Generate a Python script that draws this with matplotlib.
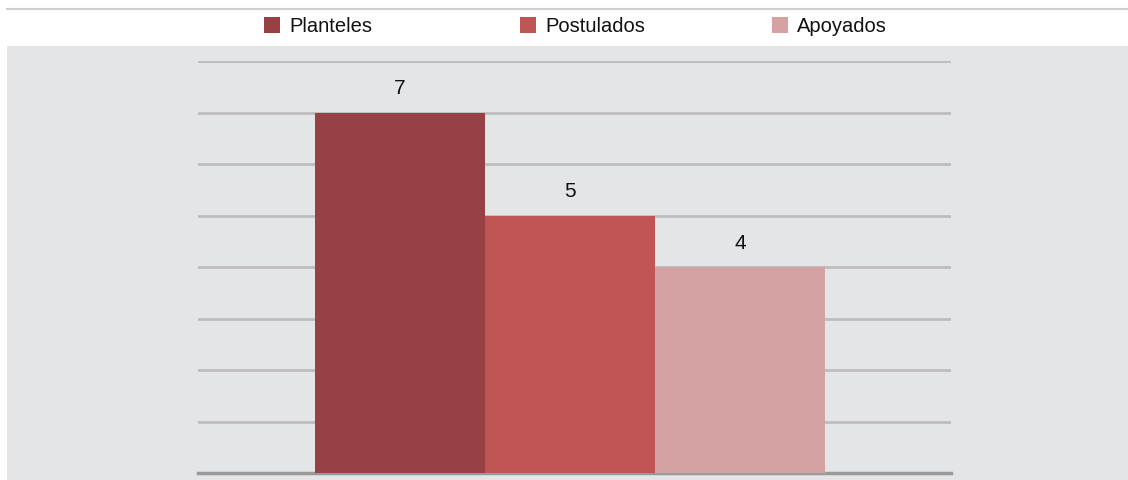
import matplotlib.pyplot as plt
from matplotlib.patches import Rectangle
from matplotlib.lines import Line2D

plt.rcParams['font.family'] = ['Liberation Sans', 'DejaVu Sans']

# Data
labels = ['Planteles', 'Postulados', 'Apoyados']
values = [7, 5, 4]
colors = ['#974144', '#bf5655', '#d4a2a2']

W, H = 1128, 481
fig = plt.figure(figsize=(W / 100, H / 100), dpi=100)

# gray panel behind the plot and thin line at top
fig.patches.append(Rectangle((7 / W, 0), 1 - 7 / W, (H - 47) / H, transform=fig.transFigure,
                             facecolor='#e4e5e7', edgecolor='none', zorder=-10))
fig.lines.append(Line2D([7 / W, 1], [(H - 9.5) / H] * 2, transform=fig.transFigure,
                        color='#cfcfcf', lw=1.5))

ax = fig.add_axes([198 / W, 7 / H, (951 - 198) / W, (474 - 62) / H])
ax.patch.set_visible(False)

x = range(len(labels))
bars = ax.bar(x, values, width=1.0, color=colors, zorder=3)
for b, v in zip(bars, values):
    ax.annotate(str(v), (b.get_x() + b.get_width() / 2, v), xytext=(0, 11),
                textcoords='offset points', ha='center', va='bottom', fontsize=15, color='#111111')

ax.set_xlim((198 - 400) / 170, (951 - 400) / 170)
ax.set_ylim(0, 8)
ax.set_yticks(range(0, 9))
ax.yaxis.grid(True, color='#bdbdbf', lw=2, zorder=1)
ax.tick_params(left=False, bottom=False, labelleft=False, labelbottom=False)
for s in ax.spines.values():
    s.set_visible(False)
ax.axhline(0, color='#999999', lw=2.5, zorder=2, clip_on=False)

# legend row
leg_x = [264, 520, 772]
for lx, lab, c in zip(leg_x, labels, colors):
    fig.patches.append(Rectangle((lx / W, (H - 34) / H), 16 / W, 16 / H, transform=fig.transFigure,
                                 facecolor=c, edgecolor='none'))
    fig.text((lx + 25) / W, (H - 26) / H, lab, fontsize=14.5, va='center', ha='left', color='#111111')

fig.savefig('out.png', dpi=100)
